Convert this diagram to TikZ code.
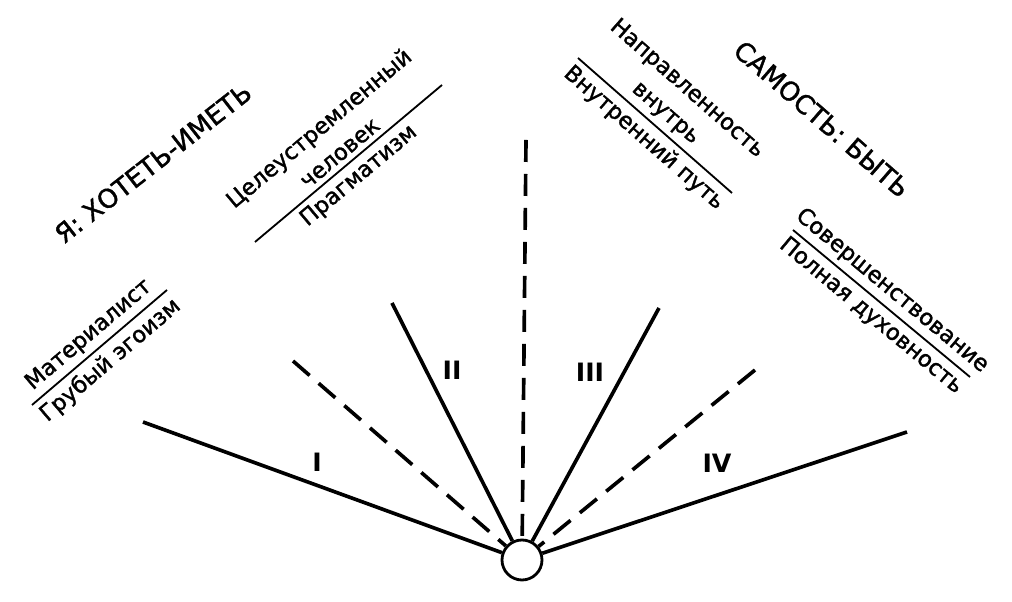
\documentclass[tikz,border=0pt]{standalone}
\usepackage{fontspec}
\setmainfont{DejaVu Sans}
\newfontfamily\lblfont{DejaVu Sans}[FakeBold=1.4]
\usetikzlibrary{positioning}

\begin{document}
\begin{tikzpicture}[ray/.style={line width=2.6pt}, dray/.style={ray, dash pattern=on 0.55cm off 0.3cm},
  bar/.style={line width=1.3pt}, lbl/.style={font=\lblfont\fontsize{16}{23}\selectfont, align=center, inner sep=3.5pt},
  big/.style={font=\lblfont\fontsize{18.5}{20}\selectfont}, num/.style={font=\fontsize{18}{20}\selectfont\bfseries}]
\useasboundingbox (0,0) rectangle (25.3,15.05);
\node[draw, circle, line width=2pt, minimum size=1cm, inner sep=0pt] (c) at (13.05,1.05) {};
% rays
\coordinate (l1) at (3.575,4.5);
\coordinate (l2) at (7.325,6.025);
\coordinate (l3) at (9.8,7.475);
\coordinate (m) at (13.15,11.55);
\coordinate (r1) at (16.475,7.35);
\coordinate (r2) at (18.875,5.8);
\coordinate (r3) at (22.675,4.25);
\draw[ray] (l1) -- (c);
\draw[dray] (l2) -- (c);
\draw[ray] (l3) -- (c);
\draw[dray] (m) -- (c);
\draw[ray] (r1) -- (c);
\draw[dray] (r2) -- (c);
\draw[ray] (r3) -- (c);
\node[num] (n1) at (7.925,3.5) {I};
\node[num] (n2) at (11.3,5.8) {II};
\node[num] (n3) at (14.75,5.75) {III};
\node[num] (n4) at (17.925,3.475) {IV};
% labels
\draw[bar] (0.8,4.925) -- (4.175,7.8)
  node[midway, above, sloped, lbl] (mat) {Материалист}
  node[midway, below, sloped, lbl] (ego) {Грубый эгоизм};
\draw[bar] (6.375,9.0) -- (11.05,12.925)
  node[midway, above, sloped, lbl] (cel) {Целеустремленный\\человек}
  node[midway, below, sloped, lbl] (prag) {Прагматизм};
\draw[bar] (14.45,13.6) -- (18.3,10.225)
  node[midway, above, sloped, lbl] (napr) {Направленность\\внутрь}
  node[midway, below, sloped, lbl] (put) {Внутренний путь};
\draw[bar] (19.825,9.3) -- (24.25,5.625)
  node[midway, above, sloped, lbl] (sov) {Совершенствование}
  node[midway, below, sloped, lbl] (duh) {Полная духовность};
\node[big, rotate=38] (ya) at (3.825,10.975) {Я: ХОТЕТЬ-ИМЕТЬ};
\node[big, rotate=-41] (sam) at (20.55,12.075) {САМОСТЬ: БЫТЬ};
\end{tikzpicture}
\end{document}
